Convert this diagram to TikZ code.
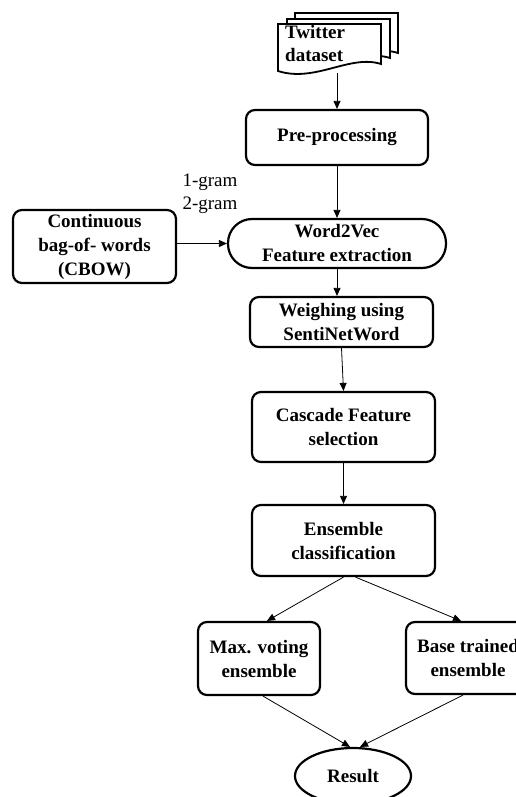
\documentclass[tikz,border=0pt]{standalone}
\usepackage{fontspec}
\setmainfont{Liberation Serif}
\usetikzlibrary{arrows.meta,shapes.geometric}
\newcommand\boxfont{\fontsize{19}{24}\selectfont\bfseries}
\newcommand\labfont{\fontsize{19}{23}\selectfont}
\tikzset{
  stepbox/.style={draw, line width=2.2pt, rounded corners=9pt, fill=white,
    align=center, font=\boxfont, inner sep=0pt},
  termbox/.style={draw, line width=2.2pt, rounded corners=24pt, fill=white,
    align=center, font=\boxfont, inner sep=0pt},
  endbox/.style={draw, ellipse, line width=2.2pt, fill=white,
    align=center, font=\boxfont, inner sep=0pt},
  docpage/.style={draw, line width=1.8pt, fill=white, line join=miter},
  arr/.style={-{Triangle[length=8pt,width=7pt]}, line width=0.8pt},
}
\begin{document}
\begin{tikzpicture}[x=1pt,y=-1pt]
\useasboundingbox (0,0) rectangle (515,797);

% stacked document symbol
\draw[docpage] (295,13) -- (398,13) -- (398,53)
  .. controls (367,43) and (332,71) .. (295,60) -- cycle;
\draw[docpage] (287,19) -- (390,19) -- (390,58)
  .. controls (359,48) and (324,77) .. (287,66) -- cycle;
\draw[docpage] (278,24) -- (381,24) -- (381,64)
  .. controls (350,54) and (315,83) .. (278,71) -- cycle;
\node[anchor=west, align=left, font=\boxfont\labfont\bfseries, inner sep=0pt]
  (data) at (285,43.5) {Twitter\\dataset};
\coordinate (dbot) at (337,73);

% process steps
\node[stepbox, minimum width=182, minimum height=55] (pre) at (337,137.5) {Pre-processing};
\node[termbox, minimum width=218, minimum height=49] (w2v) at (337,243.5) {Word2Vec\\Feature extraction};
\node[stepbox, minimum width=163, minimum height=73] (cbow) at (94.5,246.5) {Continuous\\bag-of- words\\(CBOW)};
\node[font=\labfont, align=center, inner sep=0pt] (grams) at (210,193.5) {1-gram\\2-gram};
\node[stepbox, minimum width=183, minimum height=50] (weigh) at (341.5,322) {Weighing using\\SentiNetWord};
\node[stepbox, minimum width=183, minimum height=70] (casc) at (343.5,427) {Cascade Feature\\selection};
\node[stepbox, minimum width=183, minimum height=71] (ens) at (343.5,540.5) {Ensemble\\classification};
\node[stepbox, minimum width=122, minimum height=73] (maxv) at (259,658.5) {Max. voting\\ensemble};
\node[stepbox, minimum width=124, minimum height=72] (base) at (468,658) {Base trained\\ensemble};
\node[endbox, minimum width=116, minimum height=56] (res) at (353,776) {Result};

% connectors
\draw[arr] (dbot) -- (dbot |- pre.north);
\draw[arr] (pre.south) -- (w2v.north);
\draw[arr] (cbow.east |- w2v.west) -- (w2v.west);
\draw[arr] (w2v.south) -- (w2v.south |- weigh.north);
\draw[arr] (weigh.south) -- (casc.north);
\draw[arr] (casc.south) -- (ens.north);
\draw[arr] (ens.south) -- ([xshift=8pt]maxv.north);
\draw[arr] ([xshift=12pt]ens.south) -- ([xshift=-7pt]base.north);
\draw[arr] ([xshift=4pt]maxv.south) -- ([xshift=-3pt]res.north);
\draw[arr] ([xshift=-5pt]base.south) -- ([xshift=7pt]res.north);
\end{tikzpicture}
\end{document}
